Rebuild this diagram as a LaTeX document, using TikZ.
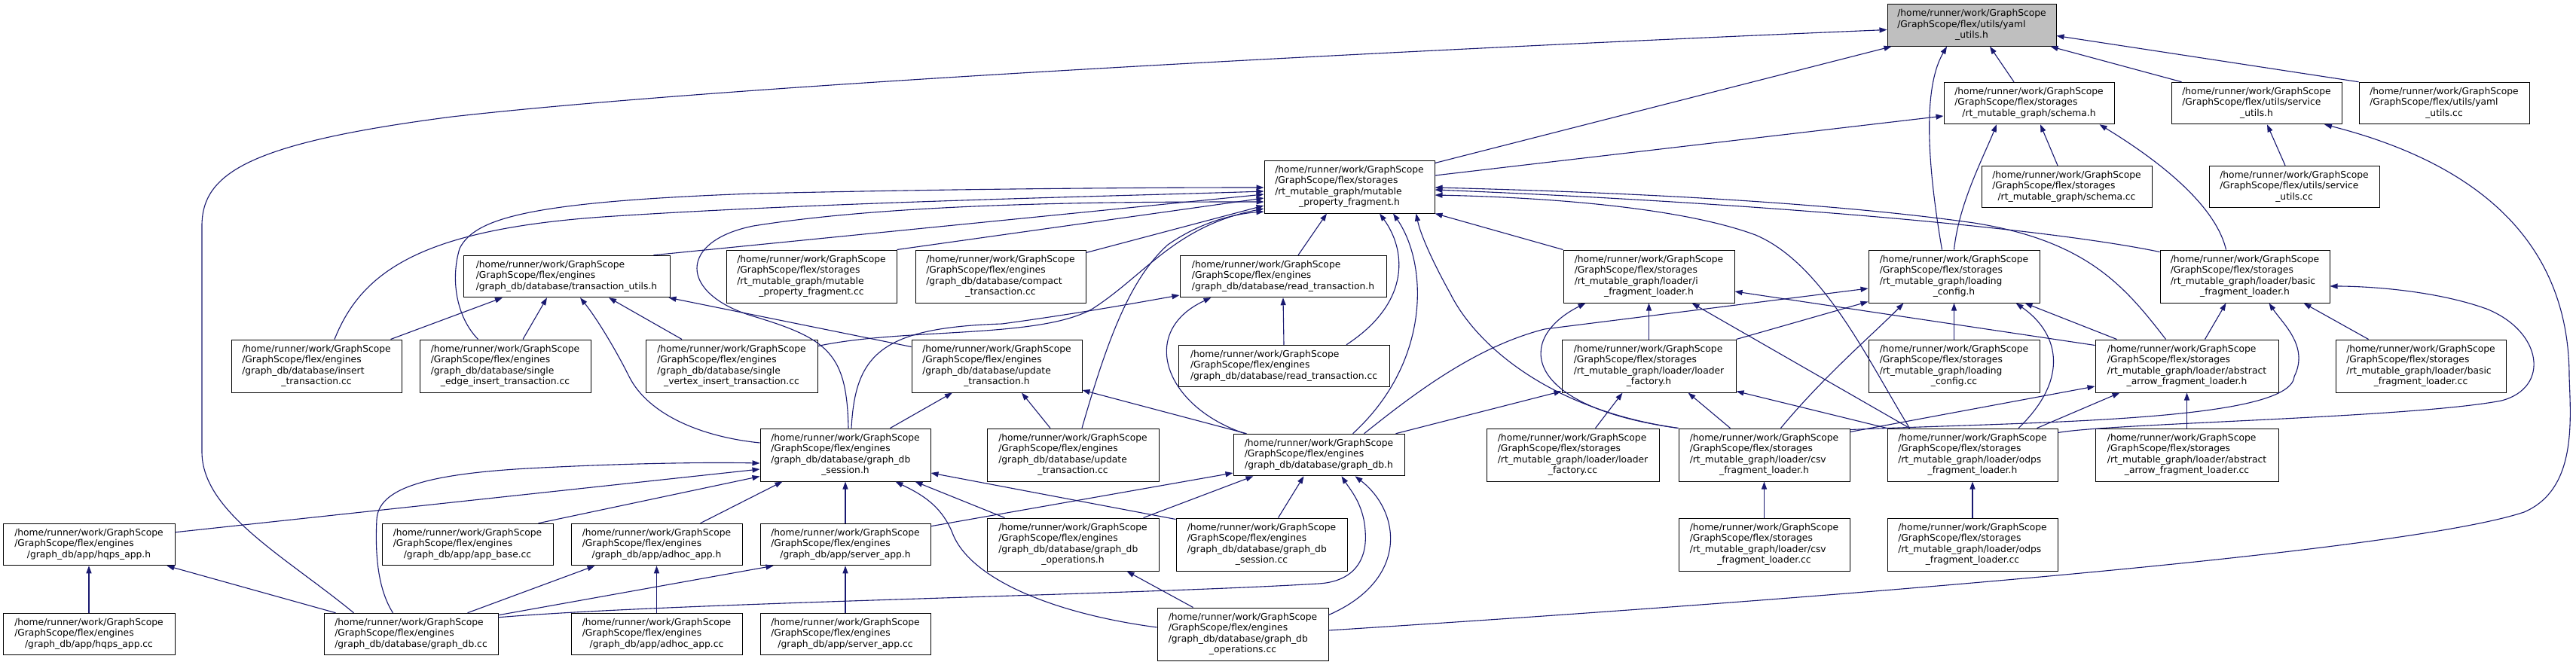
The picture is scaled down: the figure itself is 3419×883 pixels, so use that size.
\documentclass[tikz,border=0pt]{standalone}
\usepackage{fontspec}
\setmainfont{DejaVu Sans}
\usetikzlibrary{arrows.meta,calc}
\definecolor{mb}{HTML}{191970}
\definecolor{rootgray}{HTML}{BFBFBF}
\newcommand{\gsfont}{\fontsize{12.3}{14.5}\selectfont}
\newcommand{\gslab}[2]{\begin{tabular}{@{}l@{}}#1\\\multicolumn{1}{@{}c@{}}{#2}\end{tabular}}
\newcommand{\hp}{/home/runner/work/GraphScope}
\newcommand{\gsE}{/GraphScope/flex/engines}
\newcommand{\gsS}{/GraphScope/flex/storages}
\newcommand{\gsbox}[7][]{\node[gsnode,#1,minimum width={(#4)-(#3)}] (#2) at ({((#3)+(#4))/2},#5) {\gslab{#6}{#7}};}
\tikzset{
  gsnode/.style={rectangle, draw=black, fill=white, line width=1pt, inner xsep=0pt, inner ysep=6pt, font=\gsfont},
  gsroot/.style={fill=rootgray},
  gsedge/.style={draw=mb, line width=1.1pt, -{Triangle[length=10pt,width=7pt]}}
}
\begin{document}
\begin{tikzpicture}[x=1pt,y=-1pt]
\fill[white] (0,0) rectangle (3419,883);
\useasboundingbox (0,0) rectangle (3419,883);
% rank 0
\gsbox[gsroot]{yamlh}{2505}{2729}{33.5}{\hp\\/GraphScope/flex/utils/yaml}{\_utils.h}
% rank 1
\gsbox{schemah}{2580}{2806}{137}{\hp\\\gsS}{/rt\_mutable\_graph/schema.h}
\gsbox{serviceh}{2882}{3108}{137}{\hp\\/GraphScope/flex/utils/service}{\_utils.h}
\gsbox{yamlcc}{3131}{3357}{137}{\hp\\/GraphScope/flex/utils/yaml}{\_utils.cc}
% rank 2
\gsbox{mutableh}{1678}{1904}{248}{\hp\\\gsS\\/rt\_mutable\_graph/mutable}{\_property\_fragment.h}
\gsbox{schemacc}{2630}{2856}{248}{\hp\\\gsS}{/rt\_mutable\_graph/schema.cc}
\gsbox{servicecc}{2932}{3158}{248}{\hp\\/GraphScope/flex/utils/service}{\_utils.cc}
% rank 3
\gsbox{txutilsh}{615}{889}{367}{\hp\\\gsE}{/graph\_db/database/transaction\_utils.h}
\gsbox{mutablecc}{964}{1190}{367}{\hp\\\gsS\\/rt\_mutable\_graph/mutable}{\_property\_fragment.cc}
\gsbox{compactcc}{1215}{1441}{367}{\hp\\\gsE\\/graph\_db/database/compact}{\_transaction.cc}
\gsbox{readtxh}{1566}{1840}{367}{\hp\\\gsE}{/graph\_db/database/read\_transaction.h}
\gsbox{ifragh}{2075}{2302}{367}{\hp\\\gsS\\/rt\_mutable\_graph/loader/i}{\_fragment\_loader.h}
\gsbox{loadcfgh}{2480}{2707}{367}{\hp\\\gsS\\/rt\_mutable\_graph/loading}{\_config.h}
\gsbox{basich}{2867}{3092}{367}{\hp\\\gsS\\/rt\_mutable\_graph/loader/basic}{\_fragment\_loader.h}
% rank 4
\gsbox{insertcc}{307}{533}{486}{\hp\\\gsE\\/graph\_db/database/insert}{\_transaction.cc}
\gsbox{edgecc}{557}{784}{486}{\hp\\\gsE\\/graph\_db/database/single}{\_edge\_insert\_transaction.cc}
\gsbox{vertexcc}{857}{1085}{486}{\hp\\\gsE\\/graph\_db/database/single}{\_vertex\_insert\_transaction.cc}
\gsbox{updtxh}{1210}{1436}{486}{\hp\\\gsE\\/graph\_db/database/update}{\_transaction.h}
\gsbox{readtxcc}{1564}{1844}{486}{\hp\\\gsE}{/graph\_db/database/read\_transaction.cc}
\gsbox{factoryh}{2073}{2304}{486}{\hp\\\gsS\\/rt\_mutable\_graph/loader/loader}{\_factory.h}
\gsbox{loadcfgcc}{2480}{2707}{486}{\hp\\\gsS\\/rt\_mutable\_graph/loading}{\_config.cc}
\gsbox{abstracth}{2781}{3024}{486}{\hp\\\gsS\\/rt\_mutable\_graph/loader/abstract}{\_arrow\_fragment\_loader.h}
\gsbox{basiccc}{3100}{3326}{486}{\hp\\\gsS\\/rt\_mutable\_graph/loader/basic}{\_fragment\_loader.cc}
% rank 5
\gsbox{sessionh}{1009}{1235}{604}{\hp\\\gsE\\/graph\_db/database/graph\_db}{\_session.h}
\gsbox{updtxcc}{1310}{1538}{604}{\hp\\\gsE\\/graph\_db/database/update}{\_transaction.cc}
\gsbox{graphdbh}{1637}{1864}{604}{\hp\\\gsE}{/graph\_db/database/graph\_db.h}
\gsbox{factorycc}{1973}{2202}{604}{\hp\\\gsS\\/rt\_mutable\_graph/loader/loader}{\_factory.cc}
\gsbox{csvh}{2228}{2455}{604}{\hp\\\gsS\\/rt\_mutable\_graph/loader/csv}{\_fragment\_loader.h}
\gsbox{odpsh}{2505}{2731}{604}{\hp\\\gsS\\/rt\_mutable\_graph/loader/odps}{\_fragment\_loader.h}
\gsbox{abstractcc}{2781}{3024}{604}{\hp\\\gsS\\/rt\_mutable\_graph/loader/abstract}{\_arrow\_fragment\_loader.cc}
% rank 6
\gsbox{hqpsh}{4}{232}{723}{\hp\\\gsE}{/graph\_db/app/hqps\_app.h}
\gsbox{appbasecc}{507}{734}{723}{\hp\\\gsE}{/graph\_db/app/app\_base.cc}
\gsbox{adhoch}{758}{985}{723}{\hp\\\gsE}{/graph\_db/app/adhoc\_app.h}
\gsbox{serverh}{1009}{1235}{723}{\hp\\\gsE}{/graph\_db/app/server\_app.h}
\gsbox{opsh}{1310}{1538}{723}{\hp\\\gsE\\/graph\_db/database/graph\_db}{\_operations.h}
\gsbox{sessioncc}{1561}{1788}{723}{\hp\\\gsE\\/graph\_db/database/graph\_db}{\_session.cc}
\gsbox{csvcc}{2228}{2455}{723}{\hp\\\gsS\\/rt\_mutable\_graph/loader/csv}{\_fragment\_loader.cc}
\gsbox{odpscc}{2505}{2731}{723}{\hp\\\gsS\\/rt\_mutable\_graph/loader/odps}{\_fragment\_loader.cc}
% rank 7
\gsbox{hqpscc}{4}{232}{842}{\hp\\\gsE}{/graph\_db/app/hqps\_app.cc}
\gsbox{graphdbcc}{430}{661}{842}{\hp\\\gsE}{/graph\_db/database/graph\_db.cc}
\gsbox{adhoccc}{758}{985}{842}{\hp\\\gsE}{/graph\_db/app/adhoc\_app.cc}
\gsbox{servercc}{1009}{1235}{842}{\hp\\\gsE}{/graph\_db/app/server\_app.cc}
\gsbox{opscc}{1536}{1763}{842}{\hp\\\gsE\\/graph\_db/database/graph\_db}{\_operations.cc}

% ---- edges into yaml_utils.h
\draw[gsedge] ($(graphdbcc.north)+(-76,0)$) .. controls (380,740) and (268,680) .. (268,600) -- (268,300) .. controls (268,230) and (330,190) .. (600,155) .. controls (1000,110) and (1900,65) .. ($(yamlh.west)+(0,6)$);
\draw[gsedge] ($(mutableh.north east)+(0,4)$) -- ($(yamlh.south west)+(6,0)$);
\draw[gsedge] ($(loadcfgh.north)+(-16,0)$) .. controls (2560,230) and (2550,120) .. ($(yamlh.south)+(-33,0)$);
\draw[gsedge] ($(schemah.north)+(-20,0)$) -- ($(yamlh.south)+(24,0)$);
\draw[gsedge] ($(serviceh.north west)+(14,0)$) -- ($(yamlh.south east)+(-8,0)$);
\draw[gsedge] (yamlcc.north west) -- ($(yamlh.east)+(0,14)$);
% ---- schema.h
\draw[gsedge] ($(mutableh.east)+(0,-15)$) -- ($(schemah.west)+(0,17)$);
\draw[gsedge] (loadcfgh.north) .. controls (2600,270) and (2632,210) .. ($(schemah.south)+(-43,0)$);
\draw[gsedge] ($(schemacc.north)+(-12,0)$) -- ($(schemah.south)+(15,0)$);
\draw[gsedge] ($(basich.north)+(-25,0)$) .. controls (2940,270) and (2860,210) .. ($(schemah.south east)+(-20,0)$);
% ---- service_utils.h
\draw[gsedge] ($(servicecc.north)+(-12,0)$) -- ($(serviceh.south)+(14,0)$);
\draw[gsedge] ($(opscc.east)+(0,-5)$) .. controls (2500,790) and (3200,730) .. (3350,680) .. controls (3420,650) and (3412,560) .. (3410,500) .. controls (3410,330) and (3300,220) .. ($(serviceh.south)+(90,0)$);
% ---- mutable_property_fragment.h
\draw[gsedge] ($(edgecc.north)+(-36,0)$) .. controls (605,420) and (598,370) .. (610,330) .. controls (630,290) and (700,268) .. (1000,257) .. controls (1300,250) and (1550,249) .. ($(mutableh.west)+(0,1)$);
\draw[gsedge] ($(insertcc.north)+(24,0)$) .. controls (480,360) and (560,305) .. (800,288) .. controls (1100,268) and (1500,260) .. ($(mutableh.west)+(0,6)$);
\draw[gsedge] ($(txutilsh.north east)+(-22,0)$) -- ($(mutableh.west)+(0,10)$);
\draw[gsedge] (mutablecc.north east) -- ($(mutableh.west)+(0,15)$);
\draw[gsedge] ($(sessionh.north)+(4,0)$) .. controls (1124,470) and (1100,450) .. (1000,420) .. controls (900,390) and (900,320) .. (1000,300) .. controls (1200,268) and (1500,268) .. ($(mutableh.west)+(0,20)$);
\draw[gsedge] ($(compactcc.north east)+(0,4)$) -- ($(mutableh.west)+(0,25)$);
\draw[gsedge] ($(vertexcc.north east)+(0,9)$) .. controls (1200,435) and (1380,450) .. (1450,410) .. controls (1520,365) and (1560,300) .. ($(mutableh.west)+(0,29)$);
\draw[gsedge] ($(updtxcc.north)+(12,0)$) .. controls (1470,450) and (1500,370) .. (1550,325) .. controls (1600,290) and (1650,283) .. ($(mutableh.west)+(0,33)$);
\draw[gsedge] ($(readtxh.north)+(20,0)$) -- ($(mutableh.south)+(-30,0)$);
\draw[gsedge] ($(readtxcc.north)+(83,0)$) .. controls (1875,400) and (1865,330) .. ($(mutableh.south)+(40,0)$);
\draw[gsedge] ($(graphdbh.north)+(45,0)$) .. controls (1900,480) and (1895,350) .. ($(mutableh.south)+(58,0)$);
\draw[gsedge] (csvh.north west) .. controls (2060,545) and (1960,460) .. (1925,390) .. controls (1900,345) and (1885,310) .. ($(mutableh.south east)+(-25,0)$);
\draw[gsedge] (ifragh.north west) -- (mutableh.south east);
\draw[gsedge] ($(basich.north west)+(0,3)$) .. controls (2700,300) and (2300,268) .. ($(mutableh.east)+(0,4)$);
\draw[gsedge] ($(abstracth.north)+(-28,0)$) .. controls (2820,380) and (2770,320) .. (2620,296) .. controls (2400,265) and (2100,254) .. ($(mutableh.east)+(0,1)$);
\draw[gsedge] ($(odpsh.north west)+(30,0)$) .. controls (2480,480) and (2420,350) .. (2330,312) .. controls (2230,275) and (2050,262) .. ($(mutableh.east)+(0,11)$);
% ---- transaction_utils.h
\draw[gsedge] ($(insertcc.north east)+(-15,0)$) -- ($(txutilsh.south)+(-85,0)$);
\draw[gsedge] ($(edgecc.north)+(23.5,0)$) -- ($(txutilsh.south)+(-26,0)$);
\draw[gsedge] ($(vertexcc.north)+(-66,0)$) -- ($(txutilsh.south)+(56,0)$);
\draw[gsedge] ($(updtxh.north west)+(0,10)$) -- ($(txutilsh.south east)+(-2,0)$);
\draw[gsedge] ($(sessionh.west)+(0,-16)$) .. controls (930,580) and (860,550) .. (835,500) .. controls (815,460) and (790,420) .. ($(txutilsh.south)+(18,0)$);
% ---- read_transaction.h
\draw[gsedge] (readtxcc.north) -- (readtxh.south);
\draw[gsedge] ($(graphdbh.north west)+(16,0)$) .. controls (1545,540) and (1510,440) .. ($(readtxh.south west)+(42,0)$);
\draw[gsedge] ($(sessionh.north)+(8,0)$) .. controls (1135,470) and (1170,435) .. (1330,430) .. controls (1440,415) and (1520,400) .. ($(readtxh.west)+(0,25)$);
% ---- update_transaction.h
\draw[gsedge] ($(sessionh.north east)+(-54,0)$) -- ($(updtxh.south)+(-59,0)$);
\draw[gsedge] ($(updtxcc.north)+(-30,0)$) -- ($(updtxh.south)+(33,0)$);
\draw[gsedge] ($(graphdbh.north west)+(18,0)$) -- ($(updtxh.east)+(0,32)$);
% ---- i_fragment_loader.h
\draw[gsedge] (factoryh.north) -- (ifragh.south);
\draw[gsedge] (csvh.north west) .. controls (2020,540) and (2010,450) .. ($(ifragh.south west)+(30,0)$);
\draw[gsedge] ($(odpsh.north west)+(30,0)$) -- ($(ifragh.south)+(57,0)$);
\draw[gsedge] ($(abstracth.north west)+(0,8)$) -- ($(ifragh.east)+(0,20)$);
% ---- loading_config.h
\draw[gsedge] ($(graphdbh.north)+(60,0)$) .. controls (1880,520) and (1960,460) .. (2050,437) -- ($(loadcfgh.west)+(0,16)$);
\draw[gsedge] (factoryh.north east) -- ($(loadcfgh.south west)+(0,-2)$);
\draw[gsedge] ($(csvh.north)+(22,0)$) .. controls (2420,500) and (2490,440) .. ($(loadcfgh.south west)+(47,0)$);
\draw[gsedge] (loadcfgcc.north) -- (loadcfgh.south);
\draw[gsedge] ($(abstracth.north west)+(29,0)$) -- ($(loadcfgh.south east)+(-20,0)$);
\draw[gsedge] ($(odpsh.north)+(61,0)$) .. controls (2750,500) and (2730,440) .. ($(loadcfgh.south east)+(-32,0)$);
% ---- basic_fragment_loader.h
\draw[gsedge] ($(abstracth.north)+(24,0)$) -- ($(basich.south)+(-25,0)$);
\draw[gsedge] ($(csvh.north east)+(0,2)$) .. controls (2700,560) and (3040,560) .. (3045,500) .. controls (3065,460) and (3030,430) .. ($(basich.south)+(32,0)$);
\draw[gsedge] ($(basiccc.north west)+(44,0)$) -- ($(basich.south east)+(-35,0)$);
\draw[gsedge] ($(odpsh.north east)+(0,6)$) .. controls (2800,562) and (3200,555) .. (3320,532) .. controls (3385,515) and (3375,440) .. (3300,410) .. controls (3230,385) and (3140,380) .. ($(basich.east)+(0,13)$);
% ---- abstract_arrow_fragment_loader.h
\draw[gsedge] ($(csvh.north east)+(0,5)$) -- ($(abstracth.west)+(0,27)$);
\draw[gsedge] ($(odpsh.north east)+(-28,0)$) -- ($(abstracth.south west)+(33,0)$);
\draw[gsedge] (abstractcc.north) -- (abstracth.south);
% ---- loader_factory.h
\draw[gsedge] ($(graphdbh.north east)+(-12,0)$) -- ($(factoryh.south west)+(0,-2)$);
\draw[gsedge] ($(factorycc.north)+(30,0)$) -- ($(factoryh.south)+(-35,0)$);
\draw[gsedge] ($(csvh.north)+(-45,0)$) -- ($(factoryh.south)+(52,0)$);
\draw[gsedge] (odpsh.north west) -- ($(factoryh.south east)+(0,-2)$);
% ---- csv / odps
\draw[gsedge] (csvcc.north) -- (csvh.south);
\draw[gsedge] (odpscc.north) -- (odpsh.south);
% ---- graph_db_session.h
\draw[gsedge] ($(graphdbcc.north)+(-24,0)$) .. controls (500,780) and (498,730) .. (500,690) .. controls (502,650) and (560,630) .. (700,622) .. controls (850,614) and (950,614) .. ($(sessionh.west)+(0,11)$);
\draw[gsedge] ($(hqpsh.north east)+(0,12)$) -- ($(sessionh.west)+(0,19)$);
\draw[gsedge] ($(appbasecc.north east)+(-20,0)$) -- ($(sessionh.south west)+(0,-7)$);
\draw[gsedge] ($(adhoch.north east)+(-56,0)$) -- ($(sessionh.south west)+(30,0)$);
\draw[gsedge] (serverh.north) -- (sessionh.south);
\draw[gsedge] ($(opscc.west)+(0,-9)$) .. controls (1400,815) and (1290,770) .. (1265,710) .. controls (1250,670) and (1220,655) .. ($(sessionh.south east)+(-47,0)$);
\draw[gsedge] ($(opsh.north west)+(24,0)$) -- ($(sessionh.south east)+(-21,0)$);
\draw[gsedge] ($(sessioncc.north west)+(0,2)$) -- ($(sessionh.east)+(0,24)$);
% ---- graph_db.h
\draw[gsedge] ($(serverh.north east)+(0,4)$) -- ($(graphdbh.west)+(0,24)$);
\draw[gsedge] ($(opsh.north east)+(-21,0)$) -- ($(graphdbh.south west)+(27,0)$);
\draw[gsedge] ($(sessioncc.north)+(22,0)$) -- ($(graphdbh.south)+(-20,0)$);
\draw[gsedge] ($(graphdbcc.north east)+(0,6)$) .. controls (900,800) and (1500,790) .. (1750,775) .. controls (1800,772) and (1815,740) .. (1812,705) .. controls (1810,670) and (1792,650) .. ($(graphdbh.south)+(30,0)$);
\draw[gsedge] ($(opscc.north east)+(0,10)$) .. controls (1870,770) and (1860,680) .. ($(graphdbh.south)+(48,0)$);
% ---- app headers
\draw[gsedge] (hqpscc.north) -- (hqpsh.south);
\draw[gsedge] ($(graphdbcc.north west)+(16,0)$) -- ($(hqpsh.south east)+(-11,0)$);
\draw[gsedge] (adhoccc.north) -- (adhoch.south);
\draw[gsedge] ($(graphdbcc.north)+(75,0)$) -- ($(adhoch.south west)+(32,0)$);
\draw[gsedge] (servercc.north) -- (serverh.south);
\draw[gsedge] ($(graphdbcc.north east)+(0,3)$) -- ($(serverh.south west)+(18,0)$);
% ---- graph_db_operations.h
\draw[gsedge] ($(opscc.north west)+(48,0)$) -- ($(opsh.south east)+(-43,0)$);
\end{tikzpicture}
\end{document}
